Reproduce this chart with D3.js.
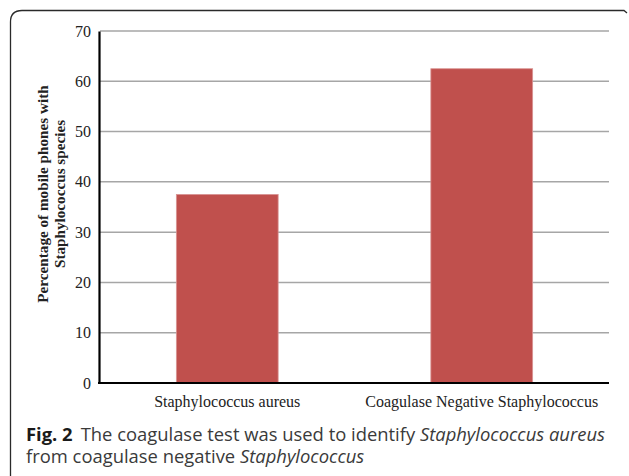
<!DOCTYPE html>
<html>
<head>
<meta charset="utf-8">
<script src="https://cdn.jsdelivr.net/npm/d3@7"></script>
<style>
  body { margin: 0; background: #fff; }
  svg { display: block; }
</style>
</head>
<body>
<div id="chart"></div>
<script>
// data
var categories = ["Staphylococcus aureus", "Coagulase Negative Staphylococcus"];
var percents = [37.5, 62.5];
var yTicks = [0, 10, 20, 30, 40, 50, 60, 70];
var yTitle = ["Percentage of mobile phones with", "Staphylococcus species"];

var width = 629, height = 476;
var plotLeft = 100, plotRight = 609, plotTop = 31, plotBottom = 383;

var svg = d3.select("#chart").append("svg")
    .attr("width", width)
    .attr("height", height);

// frame round the figure, rounded top-left corner
svg.append("path")
    .attr("d", "M10.5,476 L10.5,22 Q10.5,10.5 22,10.5 L624,10.5 L627,13")
    .attr("fill", "none")
    .attr("stroke", "#2a2a2a")
    .attr("stroke-width", 1.3);

var x = d3.scaleBand()
    .domain(categories)
    .range([plotLeft, plotRight])
    .paddingInner(0.6)
    .paddingOuter(0.3);

var y = d3.scaleLinear().domain([0, 70]).range([plotBottom, plotTop]);

// gridlines
svg.append("g")
    .selectAll("line")
    .data(yTicks.filter(function(d) { return d > 0; }))
    .enter()
    .append("line")
    .attr("x1", plotLeft)
    .attr("x2", plotRight)
    .attr("y1", function(d) { return y(d); })
    .attr("y2", function(d) { return y(d); })
    .attr("stroke", "#a6a6a6")
    .attr("stroke-width", 1.5);

// bars
svg.append("g")
    .selectAll("rect")
    .data(percents)
    .enter()
    .append("rect")
    .attr("x", function(d, i) { return x(categories[i]); })
    .attr("width", x.bandwidth())
    .attr("y", function(d) { return y(d); })
    .attr("height", function(d) { return y(0) - y(d); })
    .attr("fill", "#c0504d")
    .attr("stroke", "#d99594")
    .attr("stroke-width", 0.8);

// y axis
var yAxis = svg.append("g")
    .attr("transform", "translate(" + (plotLeft - 1) + ",0)")
    .call(d3.axisLeft(y).tickValues(yTicks).tickSize(0).tickPadding(8));
yAxis.select(".domain").attr("stroke", "#000").attr("stroke-width", 2.2);
yAxis.selectAll("text")
    .attr("font-family", "'Liberation Serif', serif")
    .attr("font-size", 16)
    .attr("fill", "#222");

// x axis
var xAxis = svg.append("g")
    .attr("transform", "translate(0," + plotBottom + ")")
    .call(d3.axisBottom(x).tickSize(0).tickPadding(13));
xAxis.select(".domain")
    .attr("d", "M" + (plotLeft - 2) + ",0H" + plotRight)
    .attr("stroke", "#000").attr("stroke-width", 2.2);
xAxis.selectAll("text")
    .attr("font-family", "'Liberation Serif', serif")
    .attr("font-size", 16)
    .attr("fill", "#222");

// y title, two lines
svg.append("g")
    .attr("transform", "translate(48,194) rotate(-90)")
    .selectAll("text")
    .data(yTitle)
    .enter()
    .append("text")
    .attr("x", 0)
    .attr("y", function(d, i) { return i * 17; })
    .attr("text-anchor", "middle")
    .attr("font-family", "'Liberation Serif', serif")
    .attr("font-weight", "bold")
    .attr("font-size", 15.2)
    .attr("fill", "#222")
    .text(function(d) { return d; });

// caption
var cap = svg.append("g")
    .attr("font-family", "'Open Sans', sans-serif")
    .attr("font-size", 18.4)
    .attr("fill", "#3a3a3a");

var l1 = cap.append("text").attr("x", 26).attr("y", 441);
l1.append("tspan").attr("font-weight", "bold").attr("fill", "#1a1a1a").text("Fig. 2");
l1.append("tspan").attr("dx", 8).text("The coagulase test was used to identify ");
l1.append("tspan").attr("font-style", "italic").text("Staphylococcus aureus");

var l2 = cap.append("text").attr("x", 26).attr("y", 463);
l2.append("tspan").text("from coagulase negative ");
l2.append("tspan").attr("font-style", "italic").text("Staphylococcus");
</script>
</body>
</html>
